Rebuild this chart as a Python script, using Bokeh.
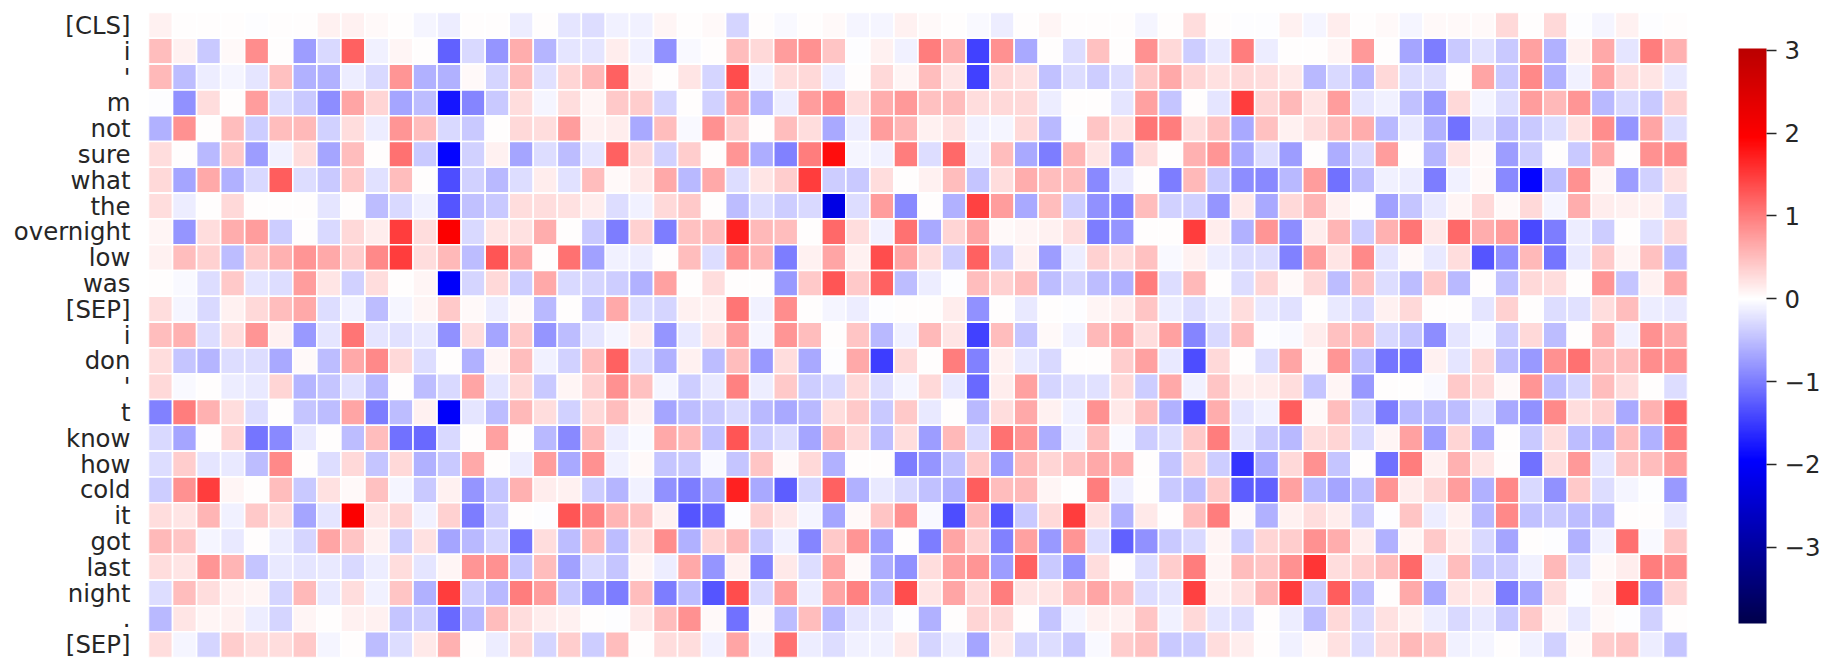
from bokeh.plotting import figure
from bokeh.models import ColumnDataSource, LinearColorMapper, ColorBar, FixedTicker
from bokeh.embed import file_html
from bokeh.resources import INLINE
import numpy as np

tokens = ["[CLS]", "i", "'", "m", "not", "sure", "what", "the", "overnight", "low", "was", "[SEP]",
          "i", "don", "'", "t", "know", "how", "cold", "it", "got", "last", "night", ".", "[SEP]"]

r00 = [.12,0,0,0,-.03,0,0,.12,.1,.05,0,-.08,-.15,0,0,-.13, 0,-.2,-.25,-.1,-.1,.08,0,.05,-.32,0,-.04,0,.04,-.07,-.07,.12,.05,0,-.04,-.14, 0,.08,.02,.02,0,-.08,0,.25,0,-.03,-.03,.12,-.08,.15,0,.05,-.08,.04,.04,.04,.3, 0,.28,-.03,-.07,.12,-.03,0]
r01 = [.5,.1,-.42,.06,.88,0,-.76,-.3,1.2,-.12,.08,0,-1.2,-.3,-.8,.62, -.56,-.2,-.2,.15,-.1,-.84,-.04,0,.5,.28,.75,.85,.45,-.03,.12,-.12,1.0,.62,-1.45,.85, -.65,0,-.27,.48,0,.85,.28,-.38,-.18,1.0,-.14,0,0,.08,.78,0,-.7,-1.0,-.4,-.22,-.42, .72,-.6,.12,.65,-.2,1.0,.6]
r02 = [.55,-.5,-.14,-.08,-.2,.48,-.6,-.6,-.13,-.3,.8,-.6,-.6,.05,-.33,.5, -.23,.32,.55,1.2,.12,0,.2,-.33,1.35,-.12,.25,.3,-.15,.03,.28,.08,.5,.2,-1.45,.28, .22,-.48,-.27,-.38,-.25,.42,.65,.32,.22,.3,.25,.18,-.55,-.28,-.55,.3,-.25,-.25,0,.68,-.42, .9,-.6,-.1,.7,.25,.2,-.17]
r03 = [-.03,-.85,.25,0,.75,-.27,-.4,-.88,.7,.33,-.7,-.5,-1.8,-.93,-.42,.25, -.08,.25,.08,.4,.37,-.33,0,-.36,.75,-.55,-.14,.75,.9,.25,.62,.78,.47,.5,.25,.3, .3,-.14,0,.03,-.2,.72,-.45,0,-.2,1.5,.32,.55,.2,.75,-.2,-.1,-.48,-.78,.3,-.08,-.25, .75,.55,.8,-.55,-.3,-.4,.35]
r04 = [-.6,.85,0,.52,-.38,.5,.55,-.35,.25,-.14,.8,.5,-.3,-.42,0,.3, .25,.75,.1,.15,-.65,.5,-.04,.85,.38,0,.5,.25,-.65,-.14,.75,.58,.12,.22,-.1,-.08, .28,-.53,-.03,.45,.22,1.05,.98,.25,.47,-.67,.47,.12,.25,.5,.62,-.55,-.18,-.6,-1.1,-.25,-.5, -.4,-.25,.22,.88,-.8,.7,-.25]
r05 = [.25,0,-.55,.4,-.75,-.1,.25,-.7,.52,0,1.1,-.4,-1.9,-.35,.1,-.7, -.27,-.5,-.2,1.2,.3,-.35,.38,0,.82,-.62,-.95,1.0,1.85,-.07,-.1,1.0,-.25,1.15,-.15,.5, -.65,-1.0,.58,.2,-.85,.25,0,.6,.8,-.65,-.27,-.75,0,-.62,-.3,.75,0,-.58,.2,.05,-.75, -.38,0,-.4,.65,0,.85,.88]
r06 = [.3,-.68,.65,-.6,-.28,1.25,-.27,-.42,.4,-.22,.5,0,-1.35,-.35,-.55,-.25, .15,-.22,.5,.06,.18,.65,-.55,.65,-.27,.2,.38,1.5,-.38,-.4,.25,0,.1,.5,-.45,.25, .62,.5,.5,-.9,-.18,0,-1.0,.55,-.42,-.88,-.9,-.55,.75,-1.1,-.5,-.1,-.14,-1.0,-.1,.04,-.9, -1.9,-.5,.85,.07,-.75,-.35,.22]
r07 = [.25,-.15,.02,.3,0,0,0,-.2,0,-.5,-.3,-.1,-1.3,-.48,-.4,.25, .25,.22,.13,-.27,-.12,.3,.4,0,-.5,-.25,-.37,-.28,-2.25,-.25,.75,-.9,0,-.6,1.45,.75, -.65,.5,-.38,-.85,-.95,.5,-.35,-.35,-.8,.18,-.65,.28,.58,.12,0,-.72,-.45,-.18,.07,.3,.05, .28,-.08,.62,.13,.12,.12,-.28]
r08 = [.08,-.8,.25,.62,.75,-.38,0,-.3,.3,.15,1.5,.25,2.0,-.3,.2,.22, .62,0,-.4,-1.0,.35,-1.0,.48,.5,1.7,.55,.5,0,1.15,.25,-.1,1.1,-.65,.33,.7,.05, .08,.12,.25,-1.0,-.8,0,0,1.5,.15,-.6,.8,-.88,.13,.58,-.38,.6,1.05,.17,1.15,.62,.75, -1.4,-1.0,-.15,-.37,.03,-.22,.3]
r09 = [.12,.5,.35,-.52,.42,.6,.8,.65,.38,.9,1.5,.25,.55,-.5,1.3,.7, 0,1.1,-.72,-.1,-.15,0,.5,-.27,.85,.58,-1.0,.1,.68,.1,1.35,.7,.27,-.38,1.2,-.4, .1,-.75,-.13,.35,.25,.47,-.04,.1,-.13,-.27,-.25,-.95,.75,.2,.9,-.2,.04,-.18,.25,-1.3,-.85, .55,-1.05,-.18,.4,.08,.48,-.5]
r10 = [0,-.05,-.25,.42,-.2,-.27,.75,.2,-.35,.25,0,.07,-2.0,-.33,.28,-.38, .65,-.3,-.33,-.38,-.6,.72,0,.25,0,0,-.78,.42,1.3,.4,1.2,-.5,-.15,-.03,.5,.35, .5,-.5,-.33,-.5,-.6,1.0,-.25,.55,0,-.25,.33,.04,.28,-.5,.47,-.27,-.5,.42,-.55,0,-.48, .28,.25,0,.8,-.45,.1,.65]
r11 = [.25,-.08,-.3,.1,.3,.5,.65,-.25,-.1,-.5,-.08,.08,.42,.05,-.13,.06, -.55,0,-.45,.65,-.25,-.33,.12,.1,1.05,-.12,.88,0,-.08,-.15,-.03,0,0,.13,-.85,.03, -.17,0,-.03,.08,.15,.45,-.13,-.25,-.14,.27,-.18,-.22,0,-.17,-.3,.12,.3,0,0,-.2,.35, .02,-.25,-.22,.25,.5,-.13,-.18]
r12 = [.5,.6,-.25,.25,.8,.12,-.78,-.2,1.05,-.2,-.22,-.18,-.85,.25,-.7,.42, -.8,-.5,-.2,-.07,.15,-.8,-.18,.2,.75,-.07,.8,.5,0,.45,-.55,-.1,.55,.2,-1.45,.5, -.45,.06,-.1,.55,.68,.25,.72,-.92,-.3,.52,-.03,-.04,.15,.47,.5,-.3,-.45,-.88,-.2,-.04,-.37, .3,-.5,0,.6,-.1,.85,.65]
r13 = [.25,-.45,-.58,-.27,-.25,-.65,.05,-.5,.65,.9,.28,-.25,0,-.6,.08,.5, -.12,-.35,.5,1.2,-.25,-.6,.1,-.5,.5,-.78,.27,-.65,-.03,.65,-1.5,.28,0,1.0,-.95,.1, -.18,-.3,0,0,.38,.72,-.17,-1.35,.28,0,-.27,.68,.04,.8,-.5,-1.05,-1.1,.1,-.2,.3,-.5, -.78,.85,1.1,.5,.5,.88,.85]
r14 = [.3,-.05,0,-.13,-.17,.32,-.58,-.45,-.22,-.55,0,-.5,-.3,.7,-.2,.3, -.42,.08,.35,.85,.48,-.08,-.38,-.17,.95,-.15,.42,-.38,-.3,.3,-.25,-.08,.3,-.18,-1.15,.13, .72,-.33,-.24,-.24,.3,-.38,.65,-.12,.45,.15,.15,.25,-.45,.07,-.78,0,0,-.04,.42,.28,.05, .8,-.5,-.33,.5,.25,.03,-.27]
r15 = [-.95,1.0,.6,.25,-.25,0,-.45,-.5,.7,-1.0,-.5,.12,-2.0,-.2,-.5,.55, .25,-.35,.3,.52,.1,-.68,-.5,-.4,-.3,-.55,-.65,-.55,.25,.4,-.4,.42,-.18,0,-.55,.25, .65,.1,-.1,.85,.18,.5,-.6,-1.4,.62,-.2,-.1,1.25,.04,.5,-.35,-1.0,-.55,-.55,-.5,-.2,-.65, -.85,.9,.25,.35,-.65,.6,1.15]
r16 = [-.3,-.68,0,.32,-1.05,-.9,-.17,0,-.5,.5,-1.1,-1.15,-.3,0,.72,0, -.55,-.9,.55,-.14,-.05,.65,.55,-.48,1.3,-.38,-.27,-.7,.55,.3,-.5,.25,-.75,.55,-.3,1.1, .8,-.62,-.1,.5,-.04,-.38,-.25,.4,1.0,-.2,-.4,-.55,.25,.32,-.3,.08,.72,-.75,.32,-.65,0, -.4,.25,-.5,-.6,.5,-.6,1.0]
r17 = [-.25,.38,-.2,-.17,-.5,.9,.03,-.25,.3,-.45,.3,-.6,-.42,.65,.03,-.15, .75,-.65,.85,-.1,.04,-.45,-.4,-.04,-.45,.45,.04,.3,-.6,0,0,-1.0,-.8,-.48,.4,-.75, .55,.33,.47,.65,.62,0,-.45,.35,-.38,-1.55,-.65,.3,.85,-.45,.03,-1.1,1.0,.1,.6,.2,0, -1.1,.25,.78,-.2,.45,.5,.75]
r18 = [-.38,.85,1.5,.07,0,.5,-.42,.22,.05,.48,-.07,-.42,.12,-.8,-.45,.6, .15,.1,-.38,-.58,-.1,-.85,-1.0,-.65,1.7,-.65,-1.25,-.32,1.2,-.6,-.18,-.28,-.48,-.6,1.25,.5, .55,.08,.03,1.0,-.14,0,-.4,-.5,.4,-1.25,-1.2,.72,-.55,-.68,-.5,.8,.13,.33,.75,-.6,.9, -.28,-.85,.42,-.25,-.08,-.03,-.78]
r19 = [.25,.2,.58,-.12,.42,.25,-.7,-.2,2.0,.2,.33,-.1,.35,-1.0,-.38,.02, -.03,1.3,.95,.58,.48,.1,-1.3,-1.15,-.03,.35,.18,-.08,-.68,.04,.45,.85,-.04,-1.35,.55,-1.3, -.4,.3,1.5,.22,-.6,.17,0,.5,1.0,.04,-.6,.12,.25,.13,-.42,-.03,.45,-.15,.12,-.55,.9, -.48,-.4,-.5,-.5,0,0,-.18]
r20 = [.55,.45,-.08,-.18,0,-.14,-.33,.68,.45,.1,-.38,.22,-.68,-.55,-.33,-1.05, .25,-.52,.55,-.5,.22,.88,-.6,.33,.55,-.42,-.12,-.92,.42,.8,-.75,0,-1.0,.7,.35,-.95, .72,-.78,.8,-.25,-1.2,-.85,-.4,-.3,.08,-.37,.33,.38,.85,.62,.15,-.6,.08,.42,.13,-.3,-.68, 0,-.03,-.6,-.12,1.1,-.04,.45]
r21 = [.25,.2,.8,.58,-.45,-.18,-.2,-.17,-.3,-.14,.25,-.2,.08,.8,.85,-.45, .5,-.72,-.3,-.45,.07,-.13,.65,-.82,.1,-.95,.18,-.25,.7,.06,-.62,-.85,.25,.72,.8,-.75, 1.2,-.4,-.85,.25,.03,-.25,.38,1.0,.08,.5,.45,.85,1.55,.25,.35,.5,1.15,-.15,.5,-.4,-.38, -.1,.55,-.27,.05,.13,1.0,.88]
r22 = [-.25,.5,.25,.1,.07,-.33,.55,-.17,.27,-.1,.45,-.6,1.5,-.38,-.55,1.0, .75,-.4,-.85,-1.0,.5,-1.0,-.5,-1.3,1.35,-.3,.75,-.15,.7,.95,-.5,1.35,.2,.7,.3,1.0, .2,.2,.5,.7,.5,-.25,-.2,1.45,.1,.22,.58,1.5,-.38,1.25,-.5,0,.65,-.65,.2,.17,-1.0, -.7,.27,-.02,.12,1.45,-.78,.33]
r23 = [-.55,.2,.07,.1,-.15,-.33,.08,0,.12,.1,-.45,-.38,-1.15,-.55,.5,.27, .15,.12,0,-.03,.18,.5,.85,.04,-1.1,.04,-.52,.5,-.55,-.2,-.17,-.03,-.6,.03,.33,.3, 0,-.45,-.08,.12,.1,.45,-.1,.28,-.2,-.25,0,-.14,-.5,.3,-.28,.22,.1,-.14,-.3,-.18,-.42, .4,.07,-.16,.06,-.02,-.35,0]
r24 = [.25,-.08,-.32,.38,.25,.25,.4,-.08,0,-.5,-.25,.18,.6,0,-.15,.33, -.33,.38,-.38,.52,0,.25,.25,-.1,.7,-.1,1.1,-.13,-.27,-.1,-.1,.17,-.33,-.13,-.68,.17, -.33,-.27,-.42,-.04,.37,.47,-.42,-.38,.25,.15,0,-.1,.04,.22,-.27,.25,.55,.45,-.1,-.08,0, -.12,-.35,.04,.38,.45,-.15,-.45]

rows = [r00, r01, r02, r03, r04, r05, r06, r07, r08, r09, r10, r11, r12,
        r13, r14, r15, r16, r17, r18, r19, r20, r21, r22, r23, r24]
for k, r in enumerate(rows):
    assert len(r) == 64, (k, len(r))

vmin, vmax = -3.92, 3.02
ticks = [-3, -2, -1, 0, 1, 2, 3]
vr = max(-vmin, vmax)


def seismic(f):
    xs = [0, .25, .5, .75, 1]
    r = np.interp(f, xs, [0, 0, 1, 1, .5])
    g = np.interp(f, xs, [0, 0, 1, 0, 0])
    b = np.interp(f, xs, [.3, 1, 1, 0, 0])
    return ["#%02x%02x%02x" % (round(a * 255), round(c * 255), round(d * 255)) for a, c, d in zip(r, g, b)]


cell_mapper = LinearColorMapper(palette=seismic(np.linspace(0, 1, 256)), low=-vr, high=vr)
bar_mapper = LinearColorMapper(
    palette=seismic(np.linspace((vmin + vr) / (2 * vr), (vmax + vr) / (2 * vr), 256)), low=vmin, high=vmax)

xs, ys, vals = [], [], []
for k, r in enumerate(rows):
    for j, v in enumerate(r):
        xs.append(j + .5)
        ys.append(k + .5)
        vals.append(v)
src = ColumnDataSource(dict(x=xs, y=ys, v=vals))

W, H = 1823, 662
p = figure(width=W, height=H, x_range=(0, 64), y_range=(25, 0), output_backend="svg", toolbar_location=None,
           min_border_left=148, min_border_right=W - 1687, min_border_top=12, min_border_bottom=H - 657,
           outline_line_color=None, background_fill_color="white", border_fill_color="white")
p.rect("x", "y", width=1, height=1, source=src, fill_color={"field": "v", "transform": cell_mapper},
       line_color="white", line_width=1.6)
p.grid.visible = False
p.xaxis.visible = False
ax = p.yaxis[0]
ax.ticker = FixedTicker(ticks=[k + .5 for k in range(len(tokens))])
ax.major_label_overrides = {k + .5: t for k, t in enumerate(tokens)}
ax.axis_line_color = None
ax.major_tick_line_color = None
ax.minor_tick_line_color = None
ax.major_tick_in = 0
ax.major_tick_out = 0
ax.major_label_standoff = 18
ax.major_label_text_font = "DejaVu Sans"
ax.major_label_text_font_size = "24.4px"
ax.major_label_text_color = "#262626"

cb = ColorBar(color_mapper=bar_mapper, ticker=FixedTicker(ticks=ticks), location=(51, 34),
              width=28, height=575, padding=0, margin=0, bar_line_color=None, border_line_color=None,
              major_tick_in=0, major_tick_out=10, major_tick_line_color="#262626", major_tick_line_width=1.3,
              minor_tick_line_color=None, label_standoff=8,
              major_label_overrides={t: str(t).replace("-", "\u2212") for t in ticks},
              major_label_text_font="DejaVu Sans", major_label_text_font_size="24.4px",
              major_label_text_color="#262626", background_fill_color=None)
p.add_layout(cb, "right")

open("out.html", "w").write(file_html(p, INLINE))
